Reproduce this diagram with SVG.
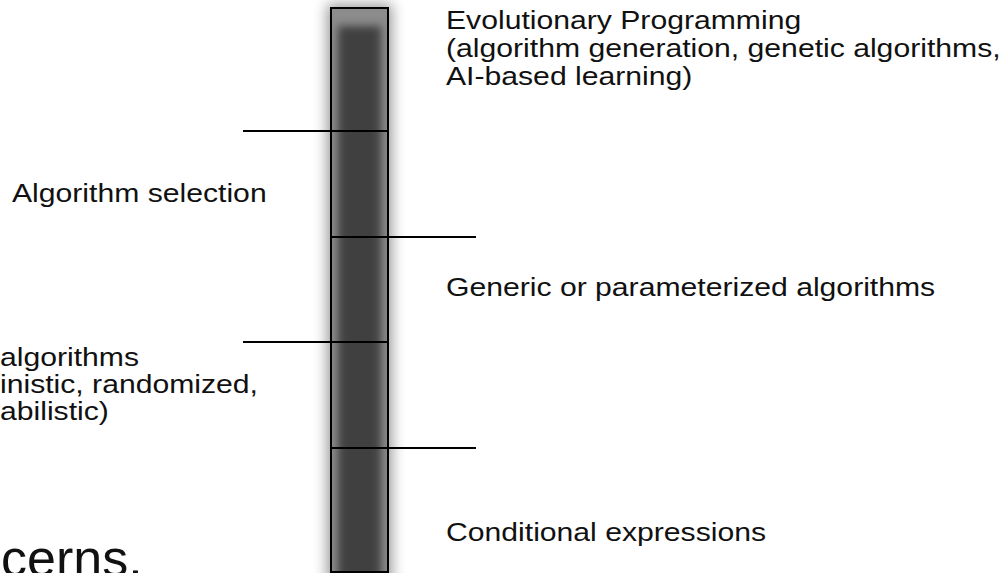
<svg xmlns="http://www.w3.org/2000/svg" width="1004" height="573" viewBox="0 0 1004 573">
  <style>
    .lbl { font-family: "Liberation Sans", Arial, sans-serif; font-size: 26px; fill: #111; }
    .big { font-family: "Liberation Sans", Arial, sans-serif; font-size: 52px; fill: #111; }
    .tick { stroke: #000; stroke-width: 2; fill: none; }
  </style>
  <defs>
    <filter id="glow" x="-60%" y="-10%" width="220%" height="120%">
      <feGaussianBlur stdDeviation="7"/>
    </filter>
    <filter id="soft" x="-50%" y="-10%" width="200%" height="120%">
      <feGaussianBlur stdDeviation="4"/>
    </filter>
    <clipPath id="barClip">
      <rect x="331" y="8" width="57" height="564"/>
    </clipPath>
  </defs>

  <rect width="1004" height="573" fill="#fff"/>

  <!-- vertical scale bar with soft halo and shaded interior -->
  <g id="bar">
    <rect x="327" y="4" width="65" height="580" fill="#000" opacity="0.4" filter="url(#glow)"/>
    <g clip-path="url(#barClip)">
      <rect x="331" y="8" width="57" height="564" fill="#8c8c8c"/>
      <rect x="338" y="26" width="43" height="560" fill="#404040" filter="url(#soft)"/>
    </g>
    <rect x="331" y="8" width="57" height="564" fill="none" stroke="#000" stroke-width="2"/>
  </g>

  <!-- level markers -->
  <g id="connectors">
    <line class="tick" x1="243" y1="131" x2="388" y2="131"/>
    <line class="tick" x1="331" y1="237" x2="476" y2="237"/>
    <line class="tick" x1="243" y1="342" x2="388" y2="342"/>
    <line class="tick" x1="331" y1="448" x2="476" y2="448"/>
  </g>

  <g id="evolutionary">
    <text class="lbl" transform="translate(446,29) scale(1.16,1)">Evolutionary Programming</text>
    <text class="lbl" transform="translate(446,57) scale(1.16,1)">(algorithm generation, genetic algorithms,</text>
    <text class="lbl" transform="translate(446,85) scale(1.16,1)">AI-based learning)</text>
  </g>

  <g id="selection">
    <text class="lbl" transform="translate(12,202) scale(1.16,1)">Algorithm selection</text>
  </g>

  <g id="generic">
    <text class="lbl" transform="translate(446,296) scale(1.16,1)">Generic or parameterized algorithms</text>
  </g>

  <g id="classic">
    <text class="lbl" transform="translate(0,366) scale(1.16,1)">algorithms</text>
    <text class="lbl" transform="translate(0,393) scale(1.16,1)">inistic, randomized,</text>
    <text class="lbl" transform="translate(0,420) scale(1.16,1)">abilistic)</text>
  </g>

  <g id="conditional">
    <text class="lbl" transform="translate(446,541) scale(1.16,1)">Conditional expressions</text>
  </g>

  <g id="concerns">
    <text class="big" x="1" y="576">cerns.</text>
  </g>
</svg>
